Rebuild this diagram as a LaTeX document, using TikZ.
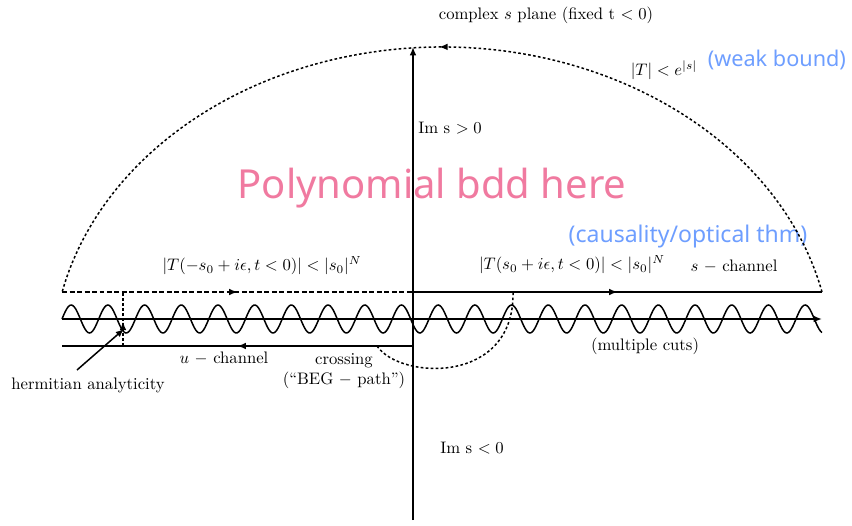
\documentclass[tikz,border=0pt]{standalone}
\usepackage{fontspec}
\newfontfamily\handfont{Noto Sans}
\usetikzlibrary{positioning,arrows.meta,decorations.markings}
\definecolor{notepink}{RGB}{240,122,160}
\definecolor{noteblue}{RGB}{110,158,255}

\begin{document}
\begin{tikzpicture}[x=0.6pt, y=0.6pt,
  every node/.style={inner sep=1pt},
  cont/.style={line width=0.9pt},
  far/.style={line width=0.9pt, dash pattern=on 1.6pt off 1.4pt},
  broken/.style={line width=0.9pt, dash pattern=on 3pt off 1.5pt},
  onarrow/.style={postaction={decorate}, decoration={markings,
      mark=at position #1 with {\arrow{Latex[length=5pt,width=4pt]}}}},
  note/.style={font=\handfont\fontsize{#1}{15}\selectfont, text=noteblue},
  note/.default=13,
  big/.style={font=\handfont\fontsize{24}{28}\selectfont, text=notepink}]

\useasboundingbox (0,0) rectangle (852,525);

\coordinate (top) at (413,478);
\coordinate (bot) at (413,5);
\coordinate (L) at (62,233);
\coordinate (M) at (413,233);
\coordinate (R) at (822,233);
\coordinate (A0) at (62,206);
\coordinate (A1) at (822,206);
\coordinate (LL) at (62,179);
\coordinate (ML) at (413,179);
\coordinate (hb) at (123,179);
\coordinate (ht) at (123,233);
\coordinate (cs) at (377,179);
\coordinate (ce) at (513,233);

\node (title) at (546,510) {complex $s$ plane (fixed t $<0$)};
\node (bound) at (664,455) {$|T|<e^{|s|}$};
\node[note, right=4pt of bound, yshift=6pt] (weak) {(weak bound)};
\node (imp) at (450,397) {Im s $>0$};
\node[big] (poly) at (432,337) {Polynomial bdd here};
\node[note=13.8] (caus) at (688,288) {(causality/optical thm)};
\node (lbound) at (262,259) {$|T(-s_0+i\epsilon,t<0)|<|s_0|^N$};
\node (rbound) at (572,260) {$|T(s_0+i\epsilon,t<0)|<|s_0|^N$};
\node (schan) at (734,259) {$s$ $-$ channel};
\node (mult) at (645,179) {(multiple cuts)};
\node (uchan) at (224,167) {$u$ $-$ channel};
\node (cross) at (344,164) {crossing};
\node[below=0pt of cross] (beg) {(``BEG $-$ path'')};
\node (herm) at (88,140) {hermitian analyticity};
\node (imn) at (472,77) {Im s $<0$};
\coordinate (hs) at (77,155);
\coordinate (he) at (124,196);

\draw[far, onarrow=0.503] (R) arc[start angle=12.84, end angle=167.16, x radius=389.7, y radius=315];
\draw[broken, onarrow=0.5] (L) -- (M);
\draw[cont, onarrow=0.5] (M) -- (R);
\draw[cont] plot[domain=62:822, samples=500, smooth] (\x, {206+14*sin((\x-62)/36.7*360)});
\draw[cont, -{Latex[length=5pt,width=4pt]}] (A0) -- (A1);
\draw[cont, onarrow=0.5] (ML) -- (LL);
\draw[far, onarrow=0.45] (hb) -- (ht);
\draw[far] (cs) .. controls (400,145) and (515,140) .. (ce);
\draw[cont, -{Latex[length=5pt,width=4pt]}] (bot) -- (top);
\draw[cont, -{Latex[length=5pt,width=4pt]}] (hs) -- (he);
\end{tikzpicture}
\end{document}
